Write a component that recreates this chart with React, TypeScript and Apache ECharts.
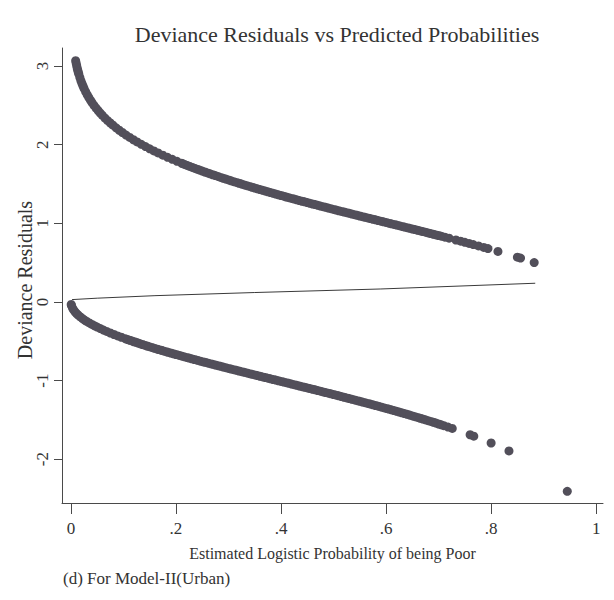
import React, { useEffect, useRef } from "react";
import * as echarts from "echarts";

const titleText = "Deviance Residuals vs Predicted Probabilities";
const xName = "Estimated Logistic Probability of being Poor";
const yName = "Deviance Residuals";
const captionText = "(d) For Model-II(Urban)";

const xTickValues = [0, 0.2, 0.4, 0.6, 0.8, 1];
const xTickLabels = ["0", ".2", ".4", ".6", ".8", "1"];
const yTickValues = [-2, -1, 0, 1, 2, 3];
const yTickLabels = ["-2", "-1", "0", "1", "2", "3"];

// observations with y = 1 (positive residuals)
const upperP = [
  0.009, 0.010, 0.011, 0.012, 0.013, 0.014, 0.015, 0.017, 0.019, 0.021, 0.023, 0.025,
  0.028, 0.031, 0.034, 0.037, 0.040, 0.044, 0.048, 0.052, 0.056, 0.060, 0.065, 0.070,
  0.075, 0.080, 0.086, 0.092, 0.098, 0.105, 0.112, 0.119, 0.126, 0.134, 0.142, 0.150,
  0.158, 0.166, 0.175, 0.184, 0.193, 0.202, 0.211, 0.220, 0.230, 0.240, 0.250, 0.260,
  0.270, 0.280, 0.290, 0.300, 0.310, 0.320, 0.330, 0.340, 0.350, 0.360, 0.370, 0.380,
  0.390, 0.400, 0.410, 0.420, 0.430, 0.440, 0.450, 0.460, 0.470, 0.480, 0.490, 0.500,
  0.510, 0.520, 0.530, 0.540, 0.550, 0.560, 0.570, 0.580, 0.590, 0.600, 0.610, 0.620,
  0.630, 0.640, 0.650, 0.660, 0.670, 0.680, 0.690, 0.700, 0.705, 0.712, 0.720, 0.733,
  0.742, 0.750, 0.758, 0.766, 0.776, 0.786, 0.794, 0.813, 0.850, 0.856, 0.882,
];
const upperD = [
  3.069, 3.035, 3.003, 2.974, 2.947, 2.922, 2.898, 2.855, 2.815, 2.780, 2.747, 2.716,
  2.674, 2.636, 2.601, 2.568, 2.537, 2.499, 2.464, 2.432, 2.401, 2.372, 2.338, 2.306,
  2.276, 2.248, 2.215, 2.184, 2.155, 2.123, 2.093, 2.063, 2.035, 2.005, 1.976, 1.948,
  1.921, 1.895, 1.867, 1.840, 1.814, 1.789, 1.764, 1.740, 1.714, 1.689, 1.665, 1.641,
  1.618, 1.596, 1.573, 1.552, 1.530, 1.510, 1.489, 1.469, 1.449, 1.429, 1.410, 1.391,
  1.372, 1.354, 1.335, 1.317, 1.299, 1.281, 1.264, 1.246, 1.229, 1.212, 1.194, 1.177,
  1.160, 1.144, 1.127, 1.110, 1.093, 1.077, 1.060, 1.044, 1.027, 1.011, 0.994, 0.978,
  0.961, 0.945, 0.928, 0.912, 0.895, 0.878, 0.861, 0.845, 0.836, 0.824, 0.811, 0.788,
  0.773, 0.759, 0.744, 0.730, 0.712, 0.694, 0.679, 0.643, 0.570, 0.558, 0.501,
];
// further y = 1 observations in the dense part of the band
const upperMidP = [
  0.215, 0.225, 0.235, 0.245, 0.255, 0.265, 0.275, 0.285, 0.295, 0.305, 0.315, 0.325,
  0.335, 0.345, 0.355, 0.365, 0.375, 0.385, 0.395, 0.405, 0.415, 0.425, 0.435, 0.445,
  0.455, 0.465, 0.475, 0.485, 0.495, 0.505, 0.515, 0.525, 0.535, 0.545, 0.555, 0.565,
  0.575, 0.585, 0.595, 0.605, 0.615, 0.625, 0.635, 0.645, 0.655, 0.665, 0.675, 0.685,
  0.695,
];
const upperMidD = [
  1.753, 1.727, 1.702, 1.677, 1.653, 1.630, 1.607, 1.584, 1.563, 1.541, 1.520, 1.499,
  1.479, 1.459, 1.439, 1.420, 1.401, 1.382, 1.363, 1.345, 1.326, 1.308, 1.290, 1.273,
  1.255, 1.238, 1.220, 1.203, 1.186, 1.169, 1.152, 1.135, 1.118, 1.102, 1.085, 1.069,
  1.052, 1.035, 1.019, 1.002, 0.986, 0.970, 0.953, 0.936, 0.920, 0.903, 0.887, 0.870,
  0.853,
];

// observations with y = 0 (negative residuals)
const lowerP = [
  0.0005, 0.001, 0.003, 0.005, 0.008, 0.011, 0.014, 0.018, 0.022, 0.026, 0.030, 0.035,
  0.040, 0.045, 0.050, 0.056, 0.062, 0.068, 0.075, 0.082, 0.089, 0.096, 0.104, 0.112,
  0.120, 0.128, 0.136, 0.145, 0.154, 0.163, 0.172, 0.181, 0.190, 0.200, 0.210, 0.220,
  0.230, 0.240, 0.250, 0.260, 0.270, 0.280, 0.290, 0.300, 0.310, 0.320, 0.330, 0.340,
  0.350, 0.360, 0.370, 0.380, 0.390, 0.400, 0.410, 0.420, 0.430, 0.440, 0.450, 0.460,
  0.470, 0.480, 0.490, 0.500, 0.510, 0.520, 0.530, 0.540, 0.550, 0.560, 0.570, 0.580,
  0.590, 0.600, 0.610, 0.620, 0.630, 0.640, 0.650, 0.660, 0.670, 0.680, 0.690, 0.700,
  0.710, 0.718, 0.726, 0.760, 0.767, 0.800, 0.834, 0.945,
];
const lowerD = [
  -0.032, -0.045, -0.078, -0.100, -0.127, -0.149, -0.168, -0.191, -0.211, -0.230, -0.247, -0.267,
  -0.286, -0.303, -0.320, -0.339, -0.358, -0.375, -0.395, -0.414, -0.432, -0.449, -0.469, -0.487,
  -0.506, -0.523, -0.541, -0.560, -0.578, -0.597, -0.614, -0.632, -0.649, -0.668, -0.687, -0.705,
  -0.723, -0.741, -0.759, -0.776, -0.793, -0.811, -0.828, -0.845, -0.861, -0.878, -0.895, -0.912,
  -0.928, -0.945, -0.961, -0.978, -0.994, -1.011, -1.027, -1.044, -1.060, -1.077, -1.093, -1.110,
  -1.127, -1.144, -1.160, -1.177, -1.194, -1.212, -1.229, -1.246, -1.264, -1.281, -1.299, -1.317,
  -1.335, -1.354, -1.372, -1.391, -1.410, -1.429, -1.449, -1.469, -1.489, -1.510, -1.530, -1.552,
  -1.573, -1.591, -1.609, -1.689, -1.707, -1.794, -1.895, -2.409,
];
// further y = 0 observations in the dense part of the band
const lowerMidP = [
  0.108, 0.116, 0.124, 0.132, 0.140, 0.149, 0.158, 0.167, 0.176, 0.185, 0.195,
  0.205, 0.215, 0.225, 0.235, 0.245, 0.255, 0.265, 0.275, 0.285, 0.295, 0.305, 0.315,
  0.325, 0.335, 0.345, 0.355, 0.365, 0.375, 0.385, 0.395, 0.405, 0.415, 0.425, 0.435,
  0.445, 0.455, 0.465, 0.475, 0.485, 0.495, 0.505, 0.515, 0.525, 0.535, 0.545, 0.555,
  0.565, 0.575, 0.585, 0.595, 0.605, 0.615, 0.625, 0.635, 0.645, 0.655, 0.665, 0.675,
  0.685, 0.695, 0.705,
];
const lowerMidD = [
  -0.478, -0.496, -0.514, -0.532, -0.550, -0.569, -0.588, -0.605, -0.623, -0.641, -0.659,
  -0.677, -0.696, -0.714, -0.732, -0.750, -0.767, -0.785, -0.802, -0.819, -0.836, -0.853, -0.870,
  -0.887, -0.903, -0.920, -0.936, -0.953, -0.970, -0.986, -1.002, -1.019, -1.035, -1.052, -1.069,
  -1.085, -1.102, -1.118, -1.135, -1.152, -1.169, -1.186, -1.203, -1.220, -1.238, -1.255, -1.273,
  -1.290, -1.308, -1.326, -1.345, -1.363, -1.382, -1.401, -1.420, -1.439, -1.459, -1.479, -1.499,
  -1.520, -1.541, -1.563,
];

// smoothed fit line
const fitP = [0.002, 0.05, 0.16, 0.35, 0.59, 0.884];
const fitD = [0.03, 0.048, 0.08, 0.12, 0.165, 0.238];

const FONT = "'Liberation Serif', 'DejaVu Serif', serif";
const TEXT = "#333333";
const AXIS = "#4a4a4a";
const DOT = "#524f5a";

function zip(a: number[], b: number[]) {
  return a.map((v, i) => [v, b[i]]);
}

export default function App() {
  const ref = useRef<HTMLDivElement>(null);

  useEffect(() => {
    if (!ref.current) return;
    const chart = echarts.init(ref.current, undefined, { renderer: "svg" });
    chart.setOption({
      animation: false,
      backgroundColor: "#ffffff",
      title: {
        text: titleText,
        left: 337,
        top: 23,
        textAlign: "center",
        padding: 0,
        textStyle: { fontFamily: FONT, fontSize: 22, fontWeight: "normal", color: TEXT },
      },
      grid: { left: 62, top: 48, width: 541, height: 455, outerBoundsMode: "none", containLabel: false },
      xAxis: {
        type: "value",
        min: -0.017,
        max: 1.013,
        name: xName,
        nameLocation: "middle",
        nameGap: 42,
        nameMoveOverlap: false,
        nameTextStyle: { fontFamily: FONT, fontSize: 16, color: TEXT },
        axisLine: { show: true, onZero: false, lineStyle: { color: AXIS, width: 1 } },
        axisTick: { show: true, length: 11, customValues: xTickValues, lineStyle: { color: AXIS } },
        axisLabel: {
          customValues: xTickValues,
          margin: 17,
          fontFamily: FONT,
          fontSize: 17,
          color: TEXT,
          formatter: (v: number) => {
            const i = xTickValues.findIndex((t) => Math.abs(t - v) < 1e-6);
            return i >= 0 ? xTickLabels[i] : "";
          },
        },
        splitLine: { show: false },
      },
      yAxis: {
        type: "value",
        min: -2.557,
        max: 3.23,
        name: yName,
        nameLocation: "middle",
        nameRotate: 90,
        nameGap: 27,
        nameMoveOverlap: false,
        nameTextStyle: { fontFamily: FONT, fontSize: 20, color: TEXT, padding: [0, 9, 0, 0] },
        axisLine: { show: true, onZero: false, lineStyle: { color: AXIS, width: 1 } },
        axisTick: { show: true, length: 8, customValues: yTickValues, lineStyle: { color: AXIS } },
        axisLabel: {
          customValues: yTickValues,
          rotate: 90,
          margin: 11,
          fontFamily: FONT,
          fontSize: 17,
          color: TEXT,
          formatter: (v: number) => {
            const i = yTickValues.findIndex((t) => Math.abs(t - v) < 1e-6);
            return i >= 0 ? yTickLabels[i] : "";
          },
        },
        splitLine: { show: false },
      },
      graphic: [
        {
          type: "text",
          left: 63,
          top: 570,
          style: { text: captionText, font: `17px ${FONT}`, fill: TEXT },
        },
      ],
      series: [
        {
          type: "scatter",
          name: "y=1",
          data: zip(upperP, upperD).concat(zip(upperMidP, upperMidD)),
          symbol: "circle",
          symbolSize: 9,
          itemStyle: { color: DOT, opacity: 1 },
        },
        {
          type: "scatter",
          name: "y=0",
          data: zip(lowerP, lowerD).concat(zip(lowerMidP, lowerMidD)),
          symbol: "circle",
          symbolSize: 9,
          itemStyle: { color: DOT, opacity: 1 },
        },
        {
          type: "line",
          name: "fit",
          data: zip(fitP, fitD),
          showSymbol: false,
          symbol: "none",
          smooth: false,
          lineStyle: { color: "#3a3a3a", width: 1 },
          z: 1,
        },
      ],
    });
    return () => chart.dispose();
  }, []);

  return <div ref={ref} style={{ width: 614, height: 600, margin: -8 }} />;
}
